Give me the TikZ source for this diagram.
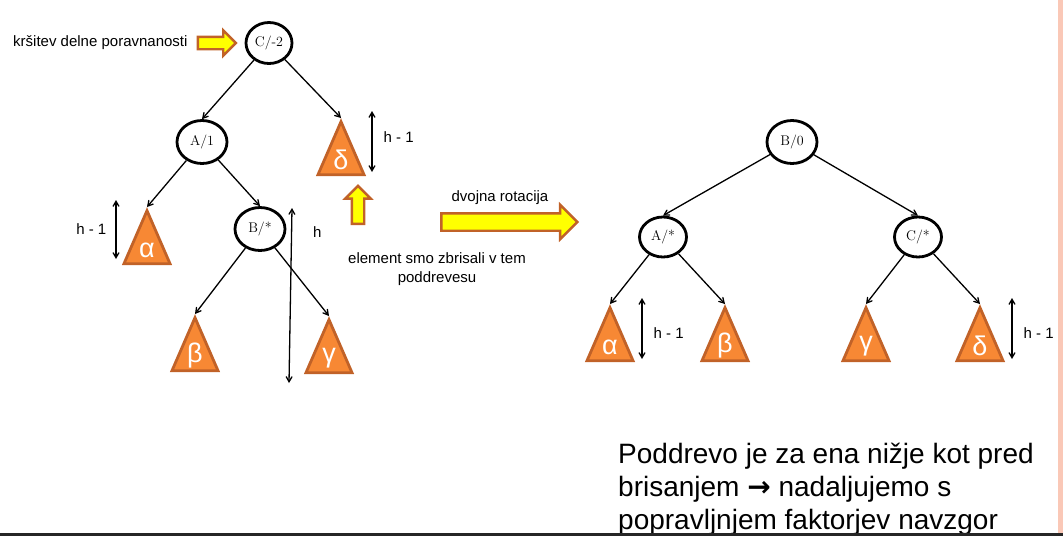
\documentclass[tikz,border=0pt]{standalone}
\usepackage{fontspec}
\newfontfamily\arialfont{Liberation Sans}
\newfontfamily\arrowfont{DejaVu Sans}
\usetikzlibrary{arrows,positioning,shapes.geometric,shapes.arrows}
\definecolor{subfill}{RGB}{247,136,52}
\definecolor{subline}{RGB}{193,98,40}
\definecolor{arrowfill}{RGB}{255,255,0}
\definecolor{sidebar}{RGB}{250,200,183}
\definecolor{footbar}{RGB}{38,38,38}
\tikzset{
    vertex/.style={ellipse,draw,line width=2.8pt,minimum width=50pt,minimum height=43pt,inner sep=0pt,font=\fontsize{14}{16}\selectfont},
    subtree/.style={isosceles triangle,isosceles triangle stretches,shape border rotate=90,draw=subline,fill=subfill,line width=2.8pt,minimum width=46pt,minimum height=53pt,inner sep=0pt,text=white,font=\arialfont\fontsize{27}{29}\selectfont},
    pre/.style={->,line width=1.3pt,>=angle 60},
    span/.style={<->,line width=1.3pt,>=angle 60},
    hint/.style={single arrow,draw=subline,fill=arrowfill,line width=2.4pt,inner sep=5pt,single arrow head extend=6.5pt,minimum height=38pt},
    note/.style={inner sep=0pt,font=\arialfont\fontsize{15}{19}\selectfont,align=center}
}

\begin{document}
\begin{tikzpicture}[x=1pt,y=-1pt]

                \useasboundingbox (0,0) rectangle (1063,536);

                % before: C/-2 out of balance
                \node[vertex,minimum width=46pt,minimum height=41pt] (c root) at (269,43) {C/-2};
                \node[vertex] (a left) at (202,142) {A/1};
                \node[vertex] (b left) at (260,229) {B/*};

                \node[subtree,anchor=apex] (delta left) at (341,118) {δ};
                \node[subtree,anchor=apex] (alpha left) at (147,207) {α};
                \node[subtree,anchor=apex] (beta left)  at (195,314) {β};
                \node[subtree,anchor=apex] (gamma left) at (329,316) {γ};

                \draw[pre] (c root) -- (a left.north);
                \draw[pre] (c root) -- (delta left.apex);
                \draw[pre] (a left) -- (alpha left.apex);
                \draw[pre] (a left) -- (b left.north);
                \draw[pre] (b left) -- (beta left.apex);
                \draw[pre] (b left) -- (gamma left.apex);

                \coordinate (delta left top) at (372,111);
                \coordinate (delta left bottom) at (372,172);
                \coordinate (alpha left top) at (116,200);
                \coordinate (alpha left bottom) at (116,259);
                \coordinate (h top) at (292,208);
                \coordinate (h bottom) at (289,383);

                \draw[span] (delta left top) -- (delta left bottom) node[note,pos=0.42,right=11pt] {h - 1};
                \draw[span] (alpha left top) -- (alpha left bottom) node[note,midway,left=9pt] {h - 1};
                \draw[span] (h top) -- (h bottom) node[note,pos=0.14,right=21pt] {h};

                \node[hint] (violation arrow) [left=7pt of c root] {};
                \node[note] (violation) [left=9pt of violation arrow] {kršitev delne poravnanosti};

                \node[hint,shape border rotate=90] (deleted arrow) at (358,208) {};
                \node[note] (deleted) at (437,269) {element smo zbrisali v tem\\poddrevesu};

                \node[hint,inner sep=7.5pt,single arrow head extend=8.5pt,minimum height=136pt] (rotation arrow) at (505,222) {};
                \node[note] (rotation) at (500,198) {dvojna rotacija};

                % after the double rotation
                \node[vertex] (b top) at (792,142) {B/0};
                \node[vertex,minimum width=47pt,minimum height=40pt] (a right) at (663,237) {A/*};
                \node[vertex,minimum width=47pt,minimum height=40pt] (c right) at (918,237) {C/*};

                \node[subtree,anchor=apex] (alpha right) at (610,304) {α};
                \node[subtree,anchor=apex] (beta right)  at (725,304) {β};
                \node[subtree,anchor=apex] (gamma right) at (866,304) {γ};
                \node[subtree,anchor=apex] (delta right) at (980,304) {δ};

                \draw[pre] (b top) -- (a right.north);
                \draw[pre] (b top) -- (c right.north);
                \draw[pre] (a right) -- (alpha right.apex);
                \draw[pre] (a right) -- (beta right.apex);
                \draw[pre] (c right) -- (gamma right.apex);
                \draw[pre] (c right) -- (delta right.apex);

                \coordinate (alpha right top) at (642,298);
                \coordinate (alpha right bottom) at (642,359);
                \coordinate (delta right top) at (1012,298);
                \coordinate (delta right bottom) at (1012,359);

                \draw[span] (alpha right top) -- (alpha right bottom) node[note,pos=0.57,right=11pt] {h - 1};
                \draw[span] (delta right top) -- (delta right bottom) node[note,pos=0.57,right=11pt] {h - 1};

                \node[anchor=north west,inner sep=0pt,align=left,font=\arialfont\fontsize{28}{33}\selectfont] (summary) at (618,443)
                    {Poddrevo je za ena nižje kot pred\\brisanjem {\arrowfont\bfseries→} nadaljujemo s\\popravljnjem faktorjev navzgor};

                \fill[sidebar] (1058,0) rectangle (1063,533);
                \fill[footbar] (0,533) rectangle (1063,536);

            \end{tikzpicture}
\end{document}
